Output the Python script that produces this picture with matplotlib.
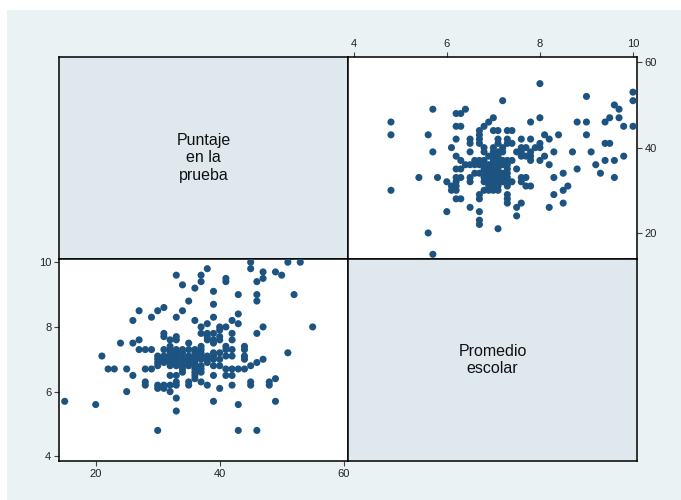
import matplotlib

matplotlib.use("Agg")
import matplotlib.pyplot as plt
from matplotlib.patches import Rectangle

plt.rcParams["font.family"] = ["Liberation Sans", "DejaVu Sans"]

# one entry per student: promedio escolar and puntaje en la prueba
promedio = [
    4.8, 4.8, 4.8,
    5.4,
    5.6, 5.6,
    5.7, 5.7, 5.7,
    5.8,
    6.0, 6.0,
    6.1, 6.1, 6.1,
    6.2, 6.2, 6.2, 6.2, 6.2, 6.2, 6.2, 6.2, 6.2, 6.2,
    6.3, 6.3, 6.3, 6.3, 6.3, 6.3,
    6.4, 6.4,
    6.5, 6.5, 6.5, 6.5, 6.5, 6.5, 6.5,
    6.6, 6.6, 6.6,
    6.7, 6.7, 6.7, 6.7, 6.7, 6.7, 6.7, 6.7, 6.7, 6.7, 6.7, 6.7,
    6.8, 6.8, 6.8, 6.8, 6.8, 6.8, 6.8, 6.8, 6.8, 6.8,
    6.9, 6.9, 6.9, 6.9, 6.9, 6.9, 6.9, 6.9, 6.9,
    7.0, 7.0, 7.0, 7.0, 7.0, 7.0, 7.0, 7.0, 7.0, 7.0, 7.0, 7.0, 7.0,
    7.1, 7.1, 7.1, 7.1, 7.1, 7.1, 7.1, 7.1, 7.1, 7.1, 7.1, 7.1, 7.1, 7.1,
    7.2, 7.2, 7.2, 7.2, 7.2, 7.2, 7.2, 7.2,
    7.3, 7.3, 7.3, 7.3, 7.3, 7.3, 7.3, 7.3, 7.3, 7.3, 7.3, 7.3, 7.3,
    7.4, 7.4, 7.4, 7.4,
    7.5, 7.5, 7.5, 7.5,
    7.6, 7.6, 7.6, 7.6, 7.6, 7.6, 7.6,
    7.7, 7.7, 7.7, 7.7,
    7.8, 7.8, 7.8, 7.8, 7.8, 7.8,
    7.9,
    8.0, 8.0, 8.0, 8.0, 8.0,
    8.1, 8.1,
    8.2, 8.2, 8.2,
    8.3, 8.3, 8.3,
    8.4,
    8.5, 8.5, 8.5,
    8.6,
    8.7,
    8.8, 8.8,
    9.0, 9.0, 9.0,
    9.1,
    9.2,
    9.3,
    9.4, 9.4, 9.4,
    9.5, 9.5,
    9.6, 9.6, 9.6,
    9.7, 9.7,
    9.8, 9.8,
    10.0, 10.0, 10.0,
]
puntaje = [
    30, 43, 46,
    33,
    20, 43,
    15, 39, 49,
    33,
    25, 32,
    30, 31, 40,
    28, 30, 31, 32, 33, 35, 38, 42, 45, 48,
    28, 33, 35, 37, 45, 48,
    36, 49,
    26, 32, 33, 36, 39, 41, 42,
    34, 36, 37,
    22, 23, 25, 28, 29, 34, 36, 37, 41, 42, 43, 44,
    30, 32, 33, 34, 35, 36, 37, 39, 40, 45,
    30, 31, 32, 33, 34, 35, 36, 38, 46,
    30, 31, 32, 33, 34, 35, 36, 37, 38, 39, 40, 44, 47,
    21, 30, 31, 32, 33, 34, 35, 36, 37, 38, 39, 41, 42, 44,
    32, 33, 34, 36, 37, 39, 40, 51,
    27, 28, 29, 31, 32, 33, 34, 35, 36, 37, 41, 42, 44,
    32, 37, 41, 44,
    24, 26, 35, 39,
    27, 32, 33, 38, 39, 40, 42,
    31, 33, 38, 40,
    31, 37, 38, 39, 42, 46,
    40,
    37, 40, 41, 47, 55,
    38, 43,
    26, 36, 42,
    29, 33, 39,
    43,
    27, 30, 34,
    31,
    39,
    35, 46,
    43, 46, 52,
    39,
    36,
    34,
    37, 41, 46,
    41, 47,
    33, 37, 50,
    47, 49,
    38, 45,
    45, 51, 53,
]

puntaje_label = "Puntaje\nen la\nprueba"
promedio_label = "Promedio\nescolar"
puntaje_ticks = [20, 40, 60]
promedio_ticks = [4, 6, 8, 10]

NAVY = "#1c5381"
BG = "#eaf2f3"
DIAG = "#dee8ed"


def style_panel(ax):
    for s in ax.spines.values():
        s.set_linewidth(1.1)
        s.set_color("black")
    ax.tick_params(direction="out", length=3.5, width=0.8, color="#444444",
                   labelsize=8, labelcolor="#222222", pad=2)


def label_panel(ax, text):
    ax.set_facecolor(DIAG)
    ax.set_xticks([])
    ax.set_yticks([])
    ax.text(0.5, 0.5, text, ha="center", va="center", fontsize=11.5,
            linespacing=1.2, color="#111111", transform=ax.transAxes)
    style_panel(ax)


fig = plt.figure(figsize=(6.81, 5.0), dpi=100)
fig.patches.append(Rectangle((7 / 681, 0), 1, 490 / 500, transform=fig.transFigure,
                             facecolor=BG, edgecolor="none", zorder=-10))

x0, xm = 59 / 681, 348 / 681
y0, ym = 1 - 461 / 500, 1 - 259 / 500
w, h = 289 / 681, 202 / 500

ax_ul = fig.add_axes([x0, ym, w, h])
ax_ur = fig.add_axes([xm, ym, w, h])
ax_ll = fig.add_axes([x0, y0, w, h])
ax_lr = fig.add_axes([xm, y0, w, h])

label_panel(ax_ul, puntaje_label)
label_panel(ax_lr, promedio_label)

# upper right: promedio on x (top axis), puntaje on y (right axis)
ax_ur.scatter(promedio, puntaje, s=26, color=NAVY, edgecolors="none", zorder=3)
ax_ur.set_xlim(3.877, 10.086)
ax_ur.set_ylim(13.9, 61.24)
ax_ur.set_xticks(promedio_ticks)
ax_ur.set_yticks(puntaje_ticks)
ax_ur.xaxis.tick_top()
ax_ur.yaxis.tick_right()
style_panel(ax_ur)

# lower left: puntaje on x (bottom axis), promedio on y (left axis)
ax_ll.scatter(puntaje, promedio, s=26, color=NAVY, edgecolors="none", zorder=3)
ax_ll.set_xlim(14.08, 60.7)
ax_ll.set_ylim(3.855, 10.1)
ax_ll.set_xticks(puntaje_ticks)
ax_ll.set_yticks(promedio_ticks)
style_panel(ax_ll)

fig.savefig("out.png", dpi=100)
plt.close(fig)
